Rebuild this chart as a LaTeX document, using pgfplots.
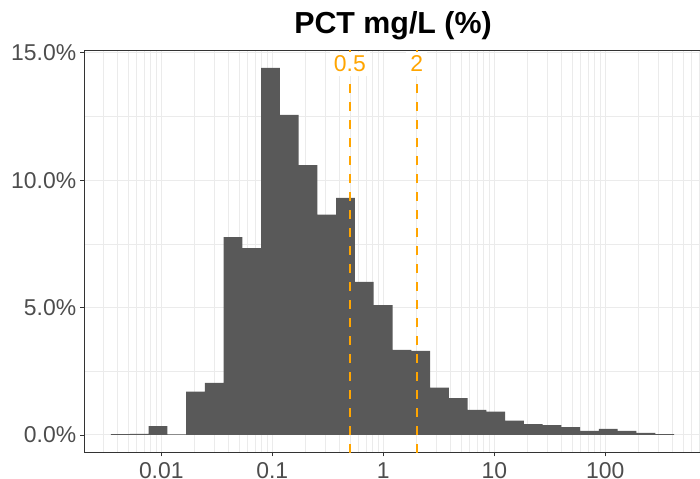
\documentclass[border=0pt]{standalone}
\usepackage{pgfplots}
\pgfplotsset{compat=1.18}
\usepackage{fontspec}
\setmainfont{Liberation Sans}
\definecolor{barcol}{HTML}{595959}
\definecolor{vlcol}{HTML}{FFA500}
\definecolor{gridcol}{HTML}{EBEBEB}
\definecolor{axcol}{HTML}{333333}
\definecolor{tickcol}{HTML}{4D4D4D}
\begin{document}
\begin{tikzpicture}[x=1bp,y=1bp]
\useasboundingbox (0,0) rectangle (700,479);
\begin{axis}[
  at={(84bp,26.3bp)}, anchor=south west,
  scale only axis, width=618bp, height=402.7bp,
  xmode=log, xmin=0.002012, xmax=743.1,
  ymin=-0.695, ymax=15.116,
  xtick={0.01,0.1,1,10,100},
  xticklabels={0.01,0.1,1,10,100},
  minor xtick={0.002,0.003,0.004,0.005,0.006,0.007,0.008,0.009,
    0.02,0.03,0.04,0.05,0.06,0.07,0.08,0.09,
    0.2,0.3,0.4,0.5,0.6,0.7,0.8,0.9,
    2,3,4,5,6,7,8,9,20,30,40,50,60,70,80,90,200,300,400,500,600,700},
  ytick={0,5,10,15},
  yticklabels={0.0\%,5.0\%,10.0\%,15.0\%},
  minor ytick={2.5,7.5,12.5},
  grid=both,
  major grid style={draw=gridcol, line width=1bp},
  minor grid style={draw=gridcol, line width=0.6bp},
  axis line style={draw=axcol, line width=0.9bp},
  tick align=outside, tick pos=left,
  major tick length=3.6bp, minor tick length=0pt,
  every tick/.style={draw=axcol, line width=0.9bp},
  /pgf/number format/assume math mode=true,
  ticklabel style={font=\fontsize{23}{26}\selectfont, text=tickcol},
  xticklabel style={anchor=north, inner sep=0pt, yshift=-6.5bp},
  yticklabel style={anchor=east, inner sep=0pt, xshift=-4bp},
  log basis x=10,
]
\addplot[ybar interval, fill=barcol, draw=none] coordinates {
  (0.003522,0.03) (0.005199,0.04) (0.007672,0.35) (0.011324,0.02)
  (0.016711,1.70) (0.024665,2.05) (0.036403,7.77) (0.05373,7.34)
  (0.07931,14.41) (0.11705,12.57) (0.17278,10.60) (0.2550,8.65)
  (0.37635,9.31) (0.5555,6.01) (0.8198,5.10) (1.2100,3.34)
  (1.7861,3.30) (2.6358,1.86) (3.8905,1.45) (5.7424,0.99)
  (8.475,0.92) (12.509,0.56) (18.462,0.43) (27.25,0.39)
  (40.21,0.31) (59.36,0.16) (87.61,0.24) (129.3,0.16)
  (190.8,0.08) (281.7,0.03) (415.7,0.03)
};
\addplot[vlcol, line width=2bp, dash pattern=on 9bp off 9bp] coordinates {(0.5,-0.695) (0.5,15.116)};
\addplot[vlcol, line width=2bp, dash pattern=on 9bp off 9bp] coordinates {(2,-0.695) (2,15.116)};
\node[fill=white, text=vlcol, inner sep=4bp, font=\fontsize{23}{26}\selectfont] at (axis cs:0.5,14.57) {0.5};
\node[fill=white, text=vlcol, inner sep=4bp, font=\fontsize{23}{26}\selectfont] at (axis cs:2,14.57) {2};
\end{axis}
\node[anchor=base, font=\fontsize{30.5}{35}\selectfont\bfseries] at (393,445.7) {PCT mg/L (\%)};
\end{tikzpicture}
\end{document}
